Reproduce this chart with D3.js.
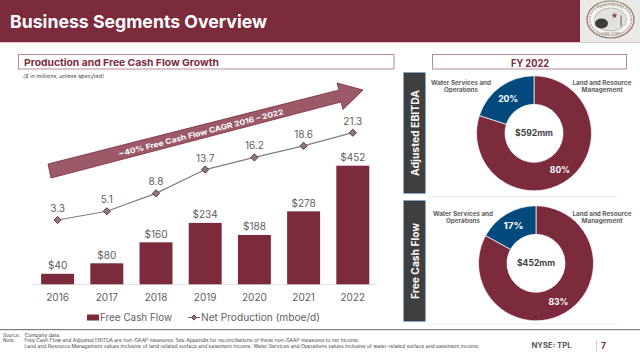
<!DOCTYPE html>
<html><head><meta charset="utf-8">
<script src="https://cdn.jsdelivr.net/npm/d3@7"></script>
<style>html,body{margin:0;padding:0;background:#fff}svg{display:block}text{font-family:Inter,"Open Sans",sans-serif}</style>
</head><body><svg id="c" width="640" height="357"></svg>
<script>
const years=["2016","2017","2018","2019","2020","2021","2022"];
const freeCashFlow=[40,80,160,234,188,278,452];
const netProduction=[3.3,5.1,8.8,13.7,16.2,18.6,21.3];
const ebitdaShares=[{name:"Land and Resource Management",v:80},{name:"Water Services and Operations",v:20}];
const fcfShares=[{name:"Land and Resource Management",v:83},{name:"Water Services and Operations",v:17}];
const maroon="#7b2b3b",blue="#024a7e",grey="#606060";
const svg=d3.select("#c");
const T=(x,y,s,o={})=>{const t=svg.append("text").attr("x",x).attr("y",y).text(s)
  .attr("font-size",o.size||10).attr("fill",o.fill||grey).attr("font-weight",o.weight||400)
  .attr("text-anchor",o.anchor||"middle").attr("dominant-baseline","central");
  if(o.len)t.attr("textLength",o.len).attr("lengthAdjust","spacingAndGlyphs");
  if(o.style)t.attr("font-style",o.style);
  if(o.rot!=null)t.attr("transform",`rotate(${o.rot} ${x} ${y})`);return t;};
// header
svg.append("rect").attr("width",640).attr("height",42).attr("fill",maroon);
svg.append("rect").attr("y",42).attr("width",640).attr("height",1).attr("fill","#dcc6cb");
svg.append("rect").attr("x",580).attr("width",60).attr("height",42).attr("fill","#e9e9e7");
T(10,21,"Business Segments Overview",{size:18,weight:700,fill:"#fff",anchor:"start",len:257});
// logo
const lg=svg.append("g").attr("transform","translate(610.5,19.5)");
lg.append("ellipse").attr("rx",23.5).attr("ry",18.5).attr("fill","#f6f3ee").attr("stroke","#8a7468").attr("stroke-width",1.2);
lg.append("ellipse").attr("rx",21).attr("ry",16).attr("fill","none").attr("stroke","#c2a999").attr("stroke-width",1.6).attr("stroke-dasharray","2 1");
lg.append("ellipse").attr("rx",16).attr("ry",11.5).attr("fill","#e3e1dc").attr("stroke","#9a9a94").attr("stroke-width",.6);
lg.append("ellipse").attr("cx",-9).attr("cy",4).attr("rx",6.5).attr("ry",5).attr("fill","#3e3d39");
lg.append("path").attr("d",d3.symbol(d3.symbolStar,12)()).attr("transform","translate(4,-4)").attr("fill","#8b3a45");
lg.append("rect").attr("x",10).attr("y",-4).attr("width",1.2).attr("height",11).attr("fill","#77756f");
lg.append("path").attr("id","lgTop").attr("d","M-18,-3 A18.5,14 0 0 1 18,-3").attr("fill","none");
lg.append("text").append("textPath").attr("href","#lgTop").attr("startOffset","50%").attr("text-anchor","middle").attr("font-size",3.4).attr("fill","#777").text("TEXAS PACIFIC");
lg.append("text").attr("y",15.5).attr("text-anchor","middle").attr("font-size",3.4).attr("fill","#777").text("LAND CORP");
// panel titles
const box=(x,y,w,h)=>svg.append("rect").attr("x",x).attr("y",y).attr("width",w).attr("height",h).attr("fill","#fff").attr("stroke","#b58a94").attr("stroke-width",1);
box(18.5,54.5,375.5,14.5);box(432.5,54.5,194,14.5);
T(24,62,"Production and Free Cash Flow Growth",{size:9.5,weight:700,fill:maroon,anchor:"start",len:195});
T(530,62.5,"FY 2022",{size:10,weight:700,fill:maroon,len:38});
T(23,75.5,"($ in millions, unless specified)",{size:5,style:"italic",fill:"#444",anchor:"start",len:81});
// arrow
svg.append("path").attr("d","M48,164 L339,90 L337,83 L363,90 L343,109.5 L341,102 L51,178 Z")
  .attr("fill","#9c5a68").attr("stroke",maroon).attr("stroke-width",.8);
T(201,133,"~40% Free Cash Flow CAGR 2016 – 2022",{size:7.5,weight:700,fill:"#fff",rot:-14.5,len:170});
// chart
const x=d3.scaleBand().domain(years).range([33,377.4]).paddingInner(.33).paddingOuter(.165);
const yBar=d3.scaleLinear().domain([0,452]).range([284.3,165.7]);
const yLine=d3.scaleLinear().domain([0,21.3]).range([236,132.7]);
const cx=d=>x(d)+x.bandwidth()/2;
svg.append("line").attr("x1",33).attr("x2",377).attr("y1",284.5).attr("y2",284.5).attr("stroke","#e3e3e3");
svg.selectAll(".b").data(years).join("rect").attr("x",d=>x(d)).attr("width",x.bandwidth())
  .attr("y",(d,i)=>yBar(freeCashFlow[i])).attr("height",(d,i)=>yBar(0)-yBar(freeCashFlow[i])).attr("fill",maroon);
years.forEach((d,i)=>{
  T(cx(d),yBar(freeCashFlow[i])-8.5,"$"+freeCashFlow[i],{size:10});
  T(cx(d),297,d,{size:10});
  T(cx(d),yLine(netProduction[i])-12,netProduction[i].toFixed(1),{size:10});
});
svg.append("path").datum(years).attr("fill","none").attr("stroke","#7f7f7f").attr("stroke-width",1.2)
  .attr("d",d3.line().x(cx).y((d,i)=>yLine(netProduction[i])));
const diamond=(g,xp,yp,r)=>g.append("path").attr("transform",`translate(${xp},${yp})`)
  .attr("d",`M0,${-r}L${r},0L0,${r}L${-r},0Z`).attr("fill","#7f7f7f").attr("stroke",maroon).attr("stroke-width",1);
years.forEach((d,i)=>diamond(svg,cx(d),yLine(netProduction[i]),3.6));
// legend
svg.append("rect").attr("x",87).attr("y",314.5).attr("width",12).attr("height",6).attr("fill",maroon);
T(100,317,"Free Cash Flow",{size:10,anchor:"start",len:72});
svg.append("line").attr("x1",188).attr("x2",200).attr("y1",317.5).attr("y2",317.5).attr("stroke","#8a6a70").attr("stroke-width",1);
diamond(svg,194,317.5,2.6);
T(201,317,"Net Production (mboe/d)",{size:10,anchor:"start",len:119});
// side labels
const side=(y,h,s,len)=>{svg.append("rect").attr("x",404).attr("y",y).attr("width",21).attr("height",h).attr("fill","#3f3f3f").attr("stroke","#1e4a6e").attr("stroke-width",1);
  T(414.5,y+h/2,s,{size:10,weight:700,fill:"#fff",rot:-90,len});};
side(73,120,"Adjusted EBITDA",86);side(201,120,"Free Cash Flow",76);
svg.append("line").attr("x1",426).attr("x2",617).attr("y1",196.5).attr("y2",196.5).attr("stroke","#ececec");
svg.append("line").attr("x1",426).attr("x2",617).attr("y1",324).attr("y2",324).attr("stroke","#ececec");
// donuts
const arc=d3.arc().innerRadius(29).outerRadius(57.5);
const pie=d3.pie().value(d=>d.v).sort(null);
const donut=(cxp,cyp,data,center,yl)=>{
  const g=svg.append("g").attr("transform",`translate(${cxp},${cyp})`);
  const ps=pie(data);
  g.selectAll("path").data(ps).join("path").attr("d",arc).attr("fill",(d,i)=>i?blue:maroon).attr("stroke","#fff").attr("stroke-width",.7);
  ps.forEach(p=>{const [a,b]=d3.arc().innerRadius(44).outerRadius(44).centroid(p);
    T(cxp+a,cyp+b+.5,p.data.v+"%",{size:9,weight:700,fill:"#fff",len:20});});
  T(cxp,cyp,center,{size:8.5,weight:700,fill:"#404040",len:38});
  T(yl.wx,yl.y,"Water Services and",{size:5.5,weight:700,fill:grey,len:60});
  T(yl.wx,yl.y+7,"Operations",{size:5.5,weight:700,fill:grey,len:34});
  T(602,yl.y,"Land and Resource",{size:5.5,weight:700,fill:grey,len:59});
  T(602,yl.y+7,"Management",{size:5.5,weight:700,fill:grey,len:41});
};
donut(534,133.3,ebitdaShares,"$592mm",{wx:461,y:83});
donut(536,263.3,fcfShares,"$452mm",{wx:463,y:213.7});
// footer
svg.append("rect").attr("y",329).attr("width",640).attr("height",1.2).attr("fill","#7f7f7f");
const F=(x,y,s,len)=>T(x,y,s,{size:4.2,fill:"#444",anchor:"start",len});
F(3,335,"Source:",17);F(24.5,335,"Company data.",36);
F(3,340.5,"Note:",12);F(24.5,340.5,"Free Cash Flow and Adjusted EBITDA are non-GAAP measures.  See Appendix for reconciliations of these non-GAAP measures to net income.",335);
F(24.5,346,"Land and Resource Management values inclusive of land-related surface and easement income. Water Services and Operations values inclusive of water-related surface and easement income.",455);
T(551.5,345,"NYSE: TPL",{size:7,weight:700,fill:"#555",len:40});
svg.append("line").attr("x1",596.5).attr("x2",596.5).attr("y1",341).attr("y2",351).attr("stroke","#ccc");
T(603.5,345.5,"7",{size:8.5,weight:700,fill:maroon});
</script></body></html>
